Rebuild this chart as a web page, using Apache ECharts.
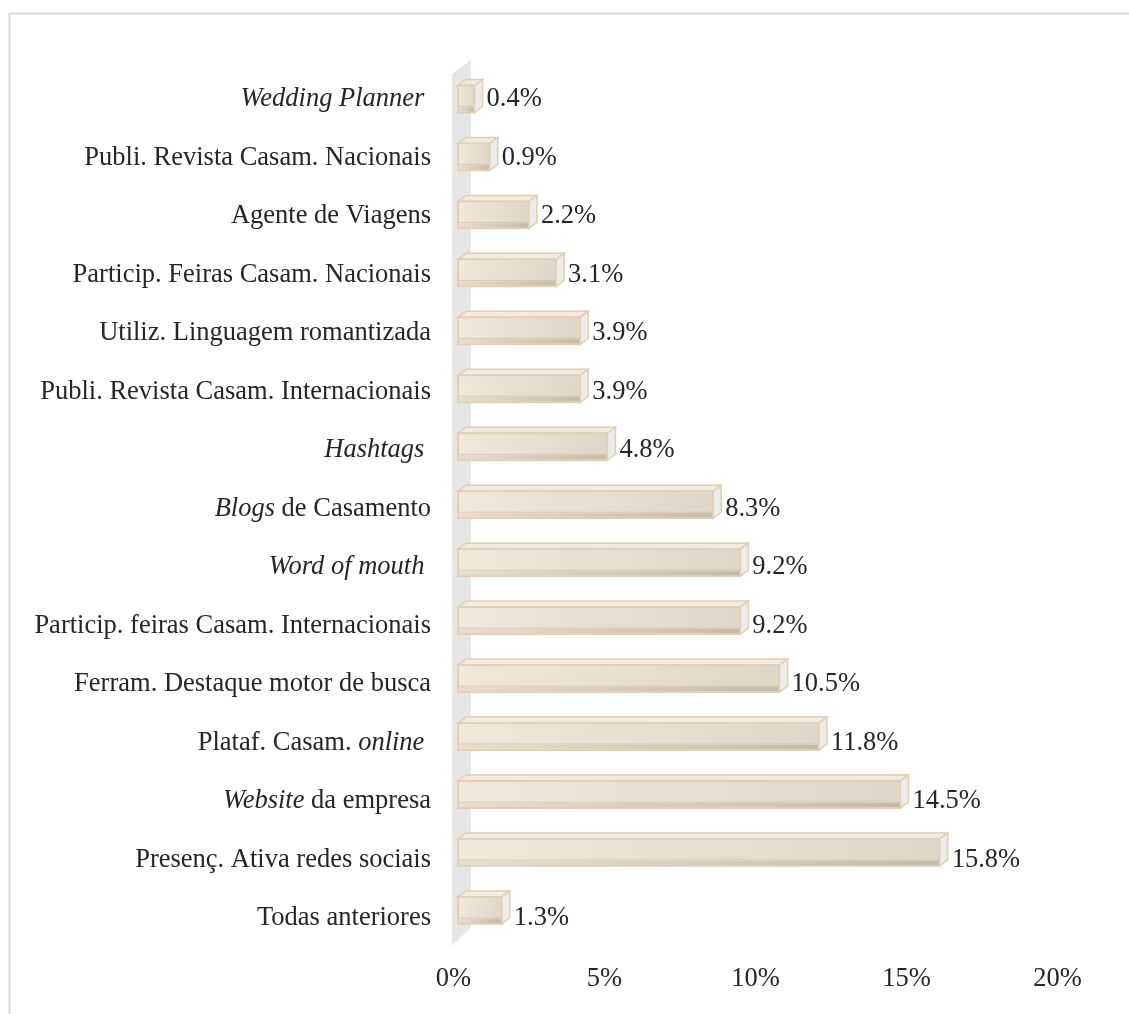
<!DOCTYPE html>
<html>
<head>
<meta charset="utf-8">
<title>Ferramentas de comunicação</title>
<script src="https://cdn.jsdelivr.net/npm/echarts@6/dist/echarts.min.js"></script>
<style>
  html, body { margin: 0; padding: 0; background: #ffffff; }
  #chart { width: 1129px; height: 1014px; }
</style>
</head>
<body>
<div id="chart"></div>
<script>
// Categories, top to bottom
const categories = [
  'Wedding Planner ',
  'Publi. Revista Casam. Nacionais',
  'Agente de Viagens',
  'Particip. Feiras Casam. Nacionais',
  'Utiliz. Linguagem romantizada',
  'Publi. Revista Casam. Internacionais',
  'Hashtags ',
  'Blogs de Casamento',
  'Word of mouth ',
  'Particip. feiras Casam. Internacionais',
  'Ferram. Destaque motor de busca',
  'Plataf. Casam. online ',
  'Website da empresa',
  'Presenç. Ativa redes sociais',
  'Todas anteriores'
];
// Share of respondents (%)
const values = [0.4, 0.9, 2.2, 3.1, 3.9, 3.9, 4.8, 8.3, 9.2, 9.2, 10.5, 11.8, 14.5, 15.8, 1.3];
// Value axis ticks
const xTicks = [0, 5, 10, 15, 20];
// Foreign words set in italics
const italicTerms = ['Wedding Planner ', 'Hashtags ', 'Word of mouth ', 'online ', 'Blogs', 'Website'];

const FONT = "'Liberation Serif', 'Times New Roman', serif";
const FS = 26.5;
const TEXT = '#262626';

function richLabel(name) {
  let out = name;
  italicTerms.forEach(t => {
    if (out.indexOf(t) >= 0 && out.indexOf('{i|') < 0) {
      out = out.replace(t, '{i|' + t + '}');
    }
  });
  return out;
}

const chart = echarts.init(document.getElementById('chart'), null, { renderer: 'canvas' });

const DX = 8, DY = -6;            // depth offset of the 3D boxes
const STROKE = '#e2cfb3';
const BOX_LEFT = 462.5;           // value 0 of the boxes (front plane)
const FLOOR_LEFT = 453.5;         // value 0 of the floor scale
const X_WIDTH = 604;
const WALL_X = 452;               // front edge of the side wall

// grey side wall behind the bars
function renderWall(params, api) {
  const cs = params.coordSys;
  const xL = WALL_X, xR = WALL_X + 19;
  const yT = cs.y, yB = cs.y + cs.height;
  return {
    type: 'polygon',
    shape: { points: [[xL, yT + 4], [xR, yT - 10], [xR, yB - 12], [xL, yB + 6]] },
    style: { fill: '#e6e6e6' },
    silent: true
  };
}

// translucent 3D box for one value
function renderBox(params, api) {
  const v = api.value(0);
  const cat = api.value(1);
  const p0 = api.coord([0, cat]);
  const p1 = api.coord([v, cat]);
  const h = 27;
  const x0 = WALL_X + 6, x1 = p1[0];
  const y0 = p0[1] - h / 2, y1 = p0[1] + h / 2;
  const w = Math.max(x1 - x0, 1);
  const children = [];
  // back face (seen through the glass)
  children.push({
    type: 'rect',
    shape: { x: x0 + DX, y: y0 + DY, width: w, height: h },
    style: { fill: 'rgba(236,226,212,0.35)', stroke: STROKE, lineWidth: 1, opacity: 0.6 }
  });
  // top face
  children.push({
    type: 'polygon',
    shape: { points: [[x0, y0], [x0 + DX, y0 + DY], [x1 + DX, y0 + DY], [x1, y0]] },
    style: { fill: '#f2ebe1', stroke: STROKE, lineWidth: 1.5 }
  });
  // front face
  children.push({
    type: 'rect',
    shape: { x: x0, y: y0, width: w, height: h },
    style: {
      fill: new echarts.graphic.LinearGradient(0, 0, 1, 0, [
        { offset: 0, color: '#f2e8da' },
        { offset: 1, color: '#e0d6c7' }
      ]),
      stroke: STROKE, lineWidth: 1.8
    }
  });
  // inner edge of the back face across the front
  children.push({
    type: 'line',
    shape: { x1: x0 + 1, y1: y1 + DY, x2: x1 - 1, y2: y1 + DY },
    style: { stroke: 'rgba(205,188,165,0.7)', lineWidth: 1 }
  });
  // lower shading on the front face
  children.push({
    type: 'rect',
    shape: { x: x0 + 1, y: y1 + DY + 1, width: Math.max(w - 2, 0), height: -DY - 2 },
    style: {
      fill: new echarts.graphic.LinearGradient(0, 0, 1, 0, [
        { offset: 0, color: 'rgba(214,200,180,0.35)' },
        { offset: 1, color: 'rgba(190,178,160,0.8)' }
      ])
    }
  });
  // right end face
  children.push({
    type: 'polygon',
    shape: { points: [[x1, y0], [x1 + DX, y0 + DY], [x1 + DX, y1 + DY], [x1, y1]] },
    style: { fill: '#ececec', stroke: STROKE, lineWidth: 1.5 }
  });
  return { type: 'group', children: children };
}

const xAxisBase = {
  type: 'value',
  min: xTicks[0],
  max: xTicks[xTicks.length - 1],
  interval: xTicks[1] - xTicks[0],
  axisLine: { show: false },
  axisTick: { show: false },
  splitLine: { show: false },
  axisLabel: { show: false }
};
const hiddenCat = gi => ({ type: 'category', gridIndex: gi, data: categories, inverse: true, show: false });

chart.setOption({
  backgroundColor: '#ffffff',
  animation: false,
  graphic: [{
    type: 'rect',
    shape: { x: 9.5, y: 13.5, width: 1300, height: 1200 },
    style: { fill: 'none', stroke: '#d9d9d9', lineWidth: 2 },
    silent: true,
    z: -10
  }],
  grid: [
    // text rows: category names and value labels
    { left: BOX_LEFT, top: 70, width: X_WIDTH, height: 877.5 },
    // 3D boxes
    { left: BOX_LEFT, top: 70, width: X_WIDTH, height: 869.4 },
    // floor scale with the percentage ticks
    { left: FLOOR_LEFT, top: 70, width: X_WIDTH, height: 869.4 }
  ],
  xAxis: [
    Object.assign({}, xAxisBase, { gridIndex: 0 }),
    Object.assign({}, xAxisBase, { gridIndex: 1 }),
    Object.assign({}, xAxisBase, {
      gridIndex: 2,
      axisLabel: {
        show: true,
        formatter: '{value}%',
        fontFamily: FONT,
        fontSize: FS,
        color: TEXT,
        margin: 26
      }
    })
  ],
  yAxis: [
    {
      type: 'category',
      gridIndex: 0,
      data: categories,
      inverse: true,
      axisLine: { show: false },
      axisTick: { show: false },
      splitLine: { show: false },
      axisLabel: {
        formatter: richLabel,
        fontFamily: FONT,
        fontSize: FS,
        color: TEXT,
        margin: 31.5,
        rich: {
          i: { fontFamily: FONT, fontSize: FS, fontStyle: 'italic', color: TEXT }
        }
      }
    },
    hiddenCat(1),
    hiddenCat(2)
  ],
  series: [
    {
      type: 'custom',
      name: 'wall',
      xAxisIndex: 1,
      yAxisIndex: 1,
      silent: true,
      clip: false,
      z: 1,
      renderItem: renderWall,
      data: [[0, 0]],
      encode: { x: 0, y: 1 }
    },
    {
      type: 'custom',
      name: 'share',
      xAxisIndex: 1,
      yAxisIndex: 1,
      clip: false,
      z: 2,
      renderItem: renderBox,
      data: values.map((v, i) => [v, i]),
      encode: { x: 0, y: 1 }
    },
    {
      type: 'scatter',
      name: 'share labels',
      xAxisIndex: 0,
      yAxisIndex: 0,
      symbolSize: 0,
      silent: true,
      z: 3,
      itemStyle: { opacity: 1 },
      data: values.map((v, i) => [v, i]),
      label: {
        show: true,
        position: 'right',
        distance: DX + 4,
        formatter: p => p.value[0].toFixed(1) + '%',
        fontFamily: FONT,
        fontSize: FS,
        color: TEXT,
        opacity: 1
      }
    }
  ]
});
</script>
</body>
</html>
